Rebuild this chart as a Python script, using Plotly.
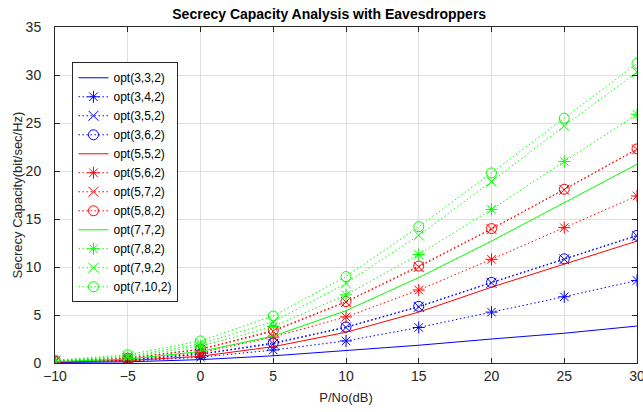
import plotly.graph_objects as go

snr_db = [-10, -5, 0, 5, 10, 15, 20, 25, 30]

opt_3_3_2 = [0.05, 0.12, 0.35, 0.75, 1.3, 1.85, 2.5, 3.1, 3.85]
opt_3_4_2 = [0.1, 0.2, 0.6, 1.35, 2.3, 3.7, 5.3, 6.9, 8.6]
opt_3_5_2 = [0.15, 0.3, 0.9, 2.0, 3.7, 5.85, 8.35, 10.8, 13.25]
opt_3_6_2 = [0.15, 0.3, 0.95, 2.1, 3.75, 5.9, 8.4, 10.85, 13.3]
opt_5_5_2 = [0.1, 0.25, 0.7, 1.7, 3.2, 5.3, 7.9, 10.3, 12.7]
opt_5_6_2 = [0.12, 0.4, 1.07, 2.7, 4.8, 7.6, 10.8, 14.1, 17.4]
opt_5_7_2 = [0.2, 0.5, 1.4, 3.3, 6.35, 10.0, 13.95, 18.05, 22.25]
opt_5_8_2 = [0.2, 0.5, 1.45, 3.4, 6.4, 10.1, 14.0, 18.1, 22.3]
opt_7_7_2 = [0.15, 0.4, 1.2, 2.8, 5.45, 8.9, 12.7, 16.7, 20.7]
opt_7_8_2 = [0.2, 0.6, 1.75, 3.8, 7.1, 11.3, 16.0, 21.0, 25.9]
opt_7_9_2 = [0.25, 0.7, 2.0, 4.3, 8.3, 13.3, 18.9, 24.7, 30.3]
opt_7_10_2 = [0.3, 0.85, 2.3, 4.9, 9.0, 14.2, 19.8, 25.5, 31.2]

series_names = ["opt(3,3,2)", "opt(3,4,2)", "opt(3,5,2)", "opt(3,6,2)",
                "opt(5,5,2)", "opt(5,6,2)", "opt(5,7,2)", "opt(5,8,2)",
                "opt(7,7,2)", "opt(7,8,2)", "opt(7,9,2)", "opt(7,10,2)"]
series_values = [opt_3_3_2, opt_3_4_2, opt_3_5_2, opt_3_6_2,
                 opt_5_5_2, opt_5_6_2, opt_5_7_2, opt_5_8_2,
                 opt_7_7_2, opt_7_8_2, opt_7_9_2, opt_7_10_2]
colors = ["#0000ff"] * 4 + ["#ff0000"] * 4 + ["#00ff00"] * 4
symbols = [None, "asterisk-open", "x-thin-open", "circle-open"] * 3

fig = go.Figure()
for name, vals, col, sym in zip(series_names, series_values, colors, symbols):
    if sym is None:
        fig.add_trace(go.Scatter(x=snr_db, y=vals, name=name, mode="lines",
                                 line=dict(color=col, width=1)))
    else:
        fig.add_trace(go.Scatter(x=snr_db, y=vals, name=name, mode="lines+markers",
                                 line=dict(color=col, width=1, dash="1.5px,2.5px"),
                                 marker=dict(symbol=sym, size=10, color=col,
                                             line=dict(color=col, width=1))))

axis_common = dict(
    showgrid=True, gridcolor="#dfdfdf", gridwidth=1,
    showline=True, linecolor="#262626", linewidth=1,
    ticks="inside", ticklen=5, tickcolor="#262626", mirror="ticks",
    zeroline=False, automargin=False, ticklabeloverflow="allow",
    tickfont=dict(family="Liberation Sans, Arial", size=14, color="#262626"),
)

fig.update_layout(
    width=643, height=412,
    paper_bgcolor="white", plot_bgcolor="white",
    margin=dict(l=55, r=6, t=27, b=49),
    title=dict(text="<b>Secrecy Capacity Analysis with Eavesdroppers</b>",
               x=0.512, xanchor="center", y=0.966, yanchor="middle",
               font=dict(family="Liberation Sans, Arial", size=14, color="black")),
    xaxis=dict(range=[-10, 30], tickvals=[-10, -5, 0, 5, 10, 15, 20, 25, 30],
               title=dict(text="P/No(dB)", standoff=10,
                          font=dict(family="Liberation Sans, Arial", size=13, color="#262626")),
               **axis_common),
    yaxis=dict(range=[0, 35], tickvals=[0, 5, 10, 15, 20, 25, 30, 35],
               ticklabelstandoff=10,
               title=dict(text="Secrecy Capacity(bit/sec/Hz)", standoff=0,
                          font=dict(family="Liberation Sans, Arial", size=13, color="#262626")),
               **axis_common),
    legend=dict(x=0.03, y=0.895, xanchor="left", yanchor="top",
                bgcolor="white", bordercolor="#262626", borderwidth=1,
                font=dict(family="Liberation Sans, Arial", size=12, color="black"),
                itemwidth=30, tracegroupgap=0),
    showlegend=True,
)

fig.write_html("out.html", config={"displayModeBar": False},
               post_script="document.body.style.margin='0';")
